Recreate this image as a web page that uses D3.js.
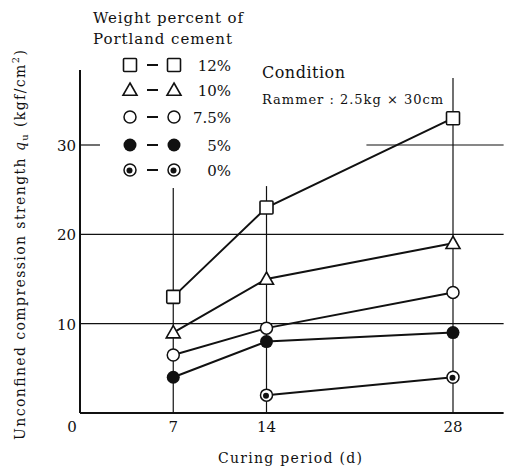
<!DOCTYPE html>
<html>
<head>
<meta charset="utf-8">
<script src="https://cdn.jsdelivr.net/npm/d3@7"></script>
<style>
  html, body { margin: 0; padding: 0; background: #fff; }
</style>
</head>
<body>
<svg id="chart" width="507" height="467"></svg>
<script>
// Curing period (days) at which specimens were tested
const days = [7, 14, 28];

// Unconfined compression strength (kgf/cm2) per cement content
const cement12 = [13, 23, 33];
const cement10 = [9, 15, 19];
const cement75 = [6.5, 9.5, 13.5];
const cement5 = [4, 8, 9];
const cement0 = [null, 2, 4];

const seriesLabels = ["12%", "10%", "7.5%", "5%", "0%"];
const seriesMarkers = ["square", "triangle", "open", "filled", "dotted"];

const xTicks = [0, 7, 14, 28];
const yTicks = [10, 20, 30];

const series = [cement12, cement10, cement75, cement5, cement0].map((vals, i) => ({
  label: seriesLabels[i],
  marker: seriesMarkers[i],
  points: days.map((d, j) => ({ day: d, value: vals[j] })).filter(p => p.value != null)
}));

const serif = "DejaVu Serif";
const svg = d3.select("#chart").style("font-family", serif);

const x = d3.scaleLinear().domain([0, 28]).range([80, 453]);
const y = d3.scaleLinear().domain([0, 30]).range([413, 145]);
const xMax = 31.8, yMax = 38.4;

const ink = "#111";

// axes frame: left and bottom lines
svg.append("line")
  .attr("x1", x(0)).attr("x2", x(0)).attr("y1", y(yMax)).attr("y2", y(0))
  .attr("stroke", ink).attr("stroke-width", 2);
svg.append("line")
  .attr("x1", x(0)).attr("x2", x(xMax)).attr("y1", y(0)).attr("y2", y(0))
  .attr("stroke", ink).attr("stroke-width", 2);

// horizontal grid lines (the 30 line is broken around the legend)
const gridSegments = [
  { v: 10, from: 0, to: xMax },
  { v: 20, from: 0, to: xMax },
  { v: 30, from: 0, to: 1.5 },
  { v: 30, from: 21.5, to: xMax }
];
svg.append("g").selectAll("line").data(gridSegments).join("line")
  .attr("x1", d => x(d.from)).attr("x2", d => x(d.to))
  .attr("y1", d => y(d.v)).attr("y2", d => y(d.v))
  .attr("stroke", ink).attr("stroke-width", 1.2);

// vertical guide lines at the test days
const guideTops = { 7: 25.2, 14: 25.4, 28: 37.5 };
svg.append("g").selectAll("line").data(days).join("line")
  .attr("x1", d => x(d)).attr("x2", d => x(d))
  .attr("y1", d => y(guideTops[d])).attr("y2", y(0))
  .attr("stroke", ink).attr("stroke-width", 1.2);

// tick labels
svg.append("g").selectAll("text").data(xTicks).join("text")
  .attr("x", d => d === 0 ? x(d) - 8 : x(d))
  .attr("y", 432)
  .attr("text-anchor", "middle")
  .attr("font-size", 15)
  .attr("fill", ink)
  .text(d => d);

svg.append("g").selectAll("text").data(yTicks).join("text")
  .attr("x", x(0) - 4)
  .attr("y", d => y(d) + 6)
  .attr("text-anchor", "end")
  .attr("font-size", 15)
  .attr("fill", ink)
  .text(d => d);

// marker drawing
function drawMarker(g, type, cx, cy) {
  if (type === "square") {
    g.append("rect").attr("x", cx - 6.5).attr("y", cy - 6.5)
      .attr("width", 13).attr("height", 13).attr("rx", 1)
      .attr("fill", "#fff").attr("stroke", ink).attr("stroke-width", 1.6);
  } else if (type === "triangle") {
    const s = 7;
    g.append("path")
      .attr("d", `M${cx},${cy - s}L${cx + s},${cy + s * 0.75}L${cx - s},${cy + s * 0.75}Z`)
      .attr("fill", "#fff").attr("stroke", ink).attr("stroke-width", 1.6);
  } else if (type === "open") {
    g.append("circle").attr("cx", cx).attr("cy", cy).attr("r", 6)
      .attr("fill", "#fff").attr("stroke", ink).attr("stroke-width", 1.5);
  } else if (type === "filled") {
    g.append("circle").attr("cx", cx).attr("cy", cy).attr("r", 6.5)
      .attr("fill", ink);
  } else {
    g.append("circle").attr("cx", cx).attr("cy", cy).attr("r", 6)
      .attr("fill", "#fff").attr("stroke", ink).attr("stroke-width", 1.5);
    g.append("circle").attr("cx", cx - 0.5).attr("cy", cy + 0.5).attr("r", 3)
      .attr("fill", ink);
  }
}

// series lines and markers
const line = d3.line().x(p => x(p.day)).y(p => y(p.value));
const plot = svg.append("g");
series.forEach(s => {
  plot.append("path").attr("d", line(s.points))
    .attr("fill", "none").attr("stroke", ink).attr("stroke-width", 2);
});
series.forEach(s => {
  s.points.forEach(p => drawMarker(plot, s.marker, x(p.day), y(p.value)));
});

// legend
const legend = svg.append("g");
legend.append("text").attr("x", 93).attr("y", 23)
  .attr("font-size", 15).attr("textLength", 150).attr("lengthAdjust", "spacing")
  .attr("fill", ink).text("Weight percent of");
legend.append("text").attr("x", 93).attr("y", 44)
  .attr("font-size", 15).attr("textLength", 139).attr("lengthAdjust", "spacing")
  .attr("fill", ink).text("Portland cement");
const rowY = [65, 90, 117, 145, 170];
series.forEach((s, i) => {
  const ry = rowY[i];
  legend.append("line").attr("x1", 147).attr("x2", 158).attr("y1", ry).attr("y2", ry)
    .attr("stroke", ink).attr("stroke-width", 2);
  drawMarker(legend, s.marker, 130, ry);
  drawMarker(legend, s.marker, 174, ry);
  legend.append("text").attr("x", 231).attr("y", ry + 6)
    .attr("text-anchor", "end").attr("font-size", 15)
    .attr("fill", ink).text(s.label);
});

// test condition note
svg.append("text").attr("x", 262).attr("y", 78)
  .attr("font-size", 16).attr("textLength", 83).attr("lengthAdjust", "spacing")
  .attr("fill", ink).text("Condition");
svg.append("text").attr("x", 262).attr("y", 104)
  .attr("font-size", 13).attr("textLength", 181).attr("lengthAdjust", "spacing")
  .attr("fill", ink).text("Rammer : 2.5kg × 30cm");

// axis titles
svg.append("text").attr("x", 290).attr("y", 463)
  .attr("text-anchor", "middle").attr("font-size", 14)
  .attr("textLength", 144).attr("lengthAdjust", "spacing")
  .attr("fill", ink).text("Curing period (d)");

const yTitle = svg.append("text")
  .attr("transform", "translate(25,245) rotate(-90)")
  .attr("text-anchor", "middle").attr("font-size", 14)
  .attr("textLength", 390).attr("lengthAdjust", "spacing")
  .attr("fill", ink);
yTitle.append("tspan").text("Unconfined compression strength ");
yTitle.append("tspan").attr("font-style", "italic").text("q");
yTitle.append("tspan").attr("font-size", 10).attr("dy", 3).text("u");
yTitle.append("tspan").attr("dy", -3).text(" (kgf/cm");
yTitle.append("tspan").attr("font-size", 10).attr("dy", -6).text("2");
yTitle.append("tspan").attr("dy", 6).text(")");
</script>
</body>
</html>
